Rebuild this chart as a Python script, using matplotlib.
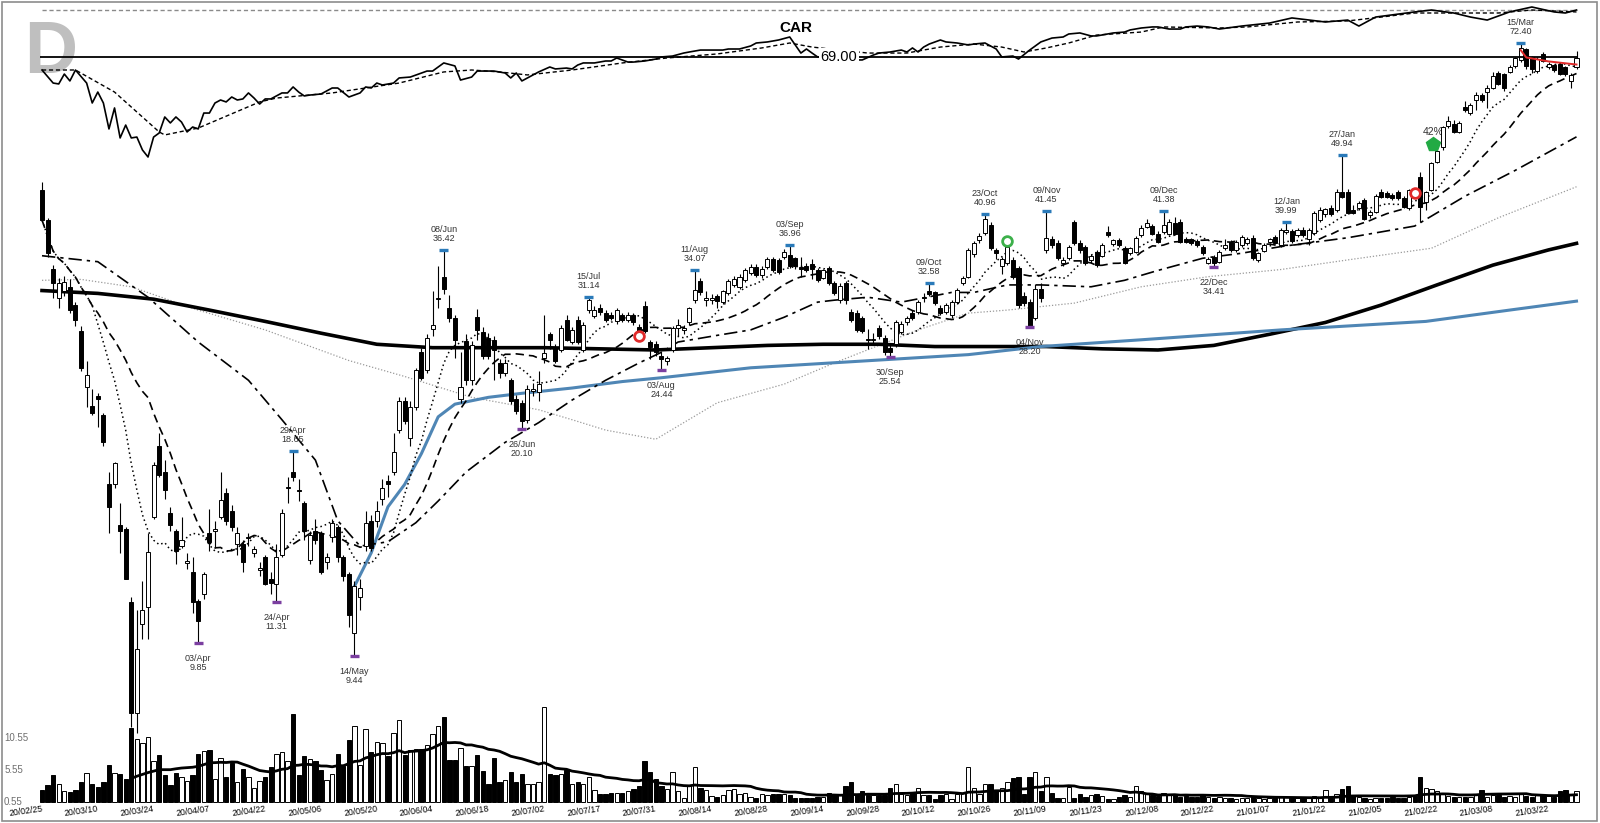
import numpy as np
import pandas as pd
import matplotlib
matplotlib.use('Agg')
import matplotlib.pyplot as plt
from matplotlib.patches import Rectangle

plt.rcParams['font.family'] = ['Liberation Sans', 'DejaVu Sans']

#   Data (daily bars, CAR)
# =====================================================
holidays = ['2020-04-10', '2020-05-25', '2020-07-03', '2020-09-07', '2020-11-26',
            '2020-12-25', '2021-01-01', '2021-01-18', '2021-02-15']

opens = [44.4, 40.2, 34.2, 31.0, 31.8, 32.2, 30.3, 27.8, 23.1, 21.7,
         22.4, 21.0, 16.7, 16.7, 14.6, 14.4, 11.3, 7.8, 10.5, 11.1,
         15.0, 19.0, 17.4, 15.2, 14.3, 13.6, 12.85, 12.5, 11.35, 11.6,
         14.2, 14.3, 15.0, 16.2, 15.3, 13.7, 13.7, 13.95, 13.3, 12.55,
         13.1, 12.2, 12.0, 13.2, 16.5, 17.4, 16.4, 15.7, 13.0, 14.3,
         14.2, 12.9, 14.0, 14.5, 13.1, 12.4, 10.2, 11.5, 13.6, 14.8,
         14.8, 15.9, 16.9, 17.4, 20.0, 22.0, 19.5, 21.6, 25.9, 24.4,
         28.0, 30.9, 33.3, 30.0, 29.0, 22.2, 26.9, 23.6, 29.1, 27.7,
         27.2, 27.0, 25.0, 24.2, 23.6, 22.2, 21.9, 20.7, 22.8, 22.7,
         25.4, 27.5, 26.4, 26.1, 28.8, 26.8, 28.8, 26.1, 29.8, 29.2,
         30.0, 29.5, 29.3, 28.7, 29.3, 28.8, 29.3, 28.2, 30.2, 26.8,
         26.6, 25.6, 25.2, 26.1, 28.1, 27.9, 28.6, 30.8, 32.8, 30.8,
         30.8, 31.2, 30.6, 31.5, 32.4, 32.2, 32.9, 33.7, 34.4, 33.5,
         34.4, 35.3, 35.2, 35.6, 35.8, 35.4, 34.3, 34.5, 34.7, 34.1,
         33.2, 34.3, 32.6, 30.8, 32.6, 29.6, 29.5, 29.0, 27.0, 27.0,
         28.1, 27.2, 26.3, 26.6, 27.7, 28.6, 29.5, 29.6, 31.0, 31.7,
         31.6, 30.0, 29.6, 29.3, 30.6, 32.6, 33.3, 35.9, 37.6, 38.5,
         39.6, 36.4, 34.5, 34.9, 35.2, 34.3, 31.2, 30.6, 29.0, 32.0,
         36.4, 37.8, 37.3, 34.9, 35.4, 39.9, 37.3, 36.8, 35.2, 36.1,
         35.7, 38.6, 37.1, 37.6, 36.6, 36.0, 36.2, 38.3, 39.3, 39.4,
         38.4, 38.6, 38.4, 39.8, 40.0, 37.8, 37.7, 37.5, 36.8, 34.9,
         35.6, 35.0, 36.6, 37.4, 36.4, 37.0, 37.2, 37.9, 35.2, 36.3,
         37.4, 38.0, 37.0, 38.6, 38.7, 38.2, 38.9, 37.8, 38.5, 40.2,
         41.0, 41.8, 41.5, 44.1, 44.1, 41.5, 41.9, 42.9, 40.9, 41.3,
         44.1, 44.0, 43.7, 44.1, 43.3, 41.8, 44.0, 46.4, 42.7, 44.4,
         48.8, 51.3, 55.0, 55.4, 53.9, 58.5, 57.3, 59.9, 61.0, 61.6,
         62.4, 65.6, 65.3, 65.8, 67.0, 68.4, 71.0, 69.0, 66.0, 69.9,
         66.8, 67.2, 67.6, 66.9, 63.8, 66.8]
highs = [45.6, 40.5, 34.6, 33.2, 33.4, 33.0, 30.6, 28.3, 25.2, 22.9,
         22.6, 21.2, 17.4, 18.0, 15.7, 14.5, 11.5, 11.0, 12.1, 14.2,
         18.0, 19.8, 18.1, 15.5, 14.4, 15.0, 13.3, 13.1, 11.4, 12.5,
         15.4, 14.8, 17.4, 16.5, 15.6, 14.5, 13.9, 14.2, 13.6, 12.9,
         13.2, 12.5, 13.7, 15.4, 17.1, 18.65, 17.0, 15.8, 14.3, 14.9,
         14.3, 13.3, 14.9, 14.6, 13.2, 12.5, 12.1, 12.2, 15.3, 15.1,
         15.8, 17.0, 17.2, 19.8, 22.3, 22.3, 22.0, 24.6, 26.3, 27.5,
         31.7, 34.5, 36.42, 31.3, 29.3, 25.9, 27.5, 26.9, 29.9, 28.2,
         27.6, 27.3, 25.3, 25.3, 23.8, 22.5, 22.1, 23.2, 23.4, 24.3,
         29.3, 27.7, 26.6, 28.4, 29.3, 28.2, 29.2, 28.6, 31.14, 30.2,
         30.4, 29.8, 29.6, 30.0, 29.5, 29.6, 29.5, 28.5, 30.7, 27.0,
         26.9, 26.0, 25.6, 28.3, 28.9, 28.4, 30.1, 34.07, 33.1, 31.7,
         31.4, 31.4, 31.9, 33.0, 33.4, 33.6, 34.3, 34.7, 34.7, 34.5,
         35.6, 35.5, 35.4, 36.5, 36.96, 35.6, 35.5, 34.8, 35.3, 34.3,
         34.2, 34.5, 32.8, 32.6, 32.8, 29.9, 29.8, 29.2, 28.0, 27.6,
         28.4, 27.4, 26.5, 28.8, 28.7, 29.2, 29.8, 30.8, 31.5, 32.58,
         31.8, 30.3, 30.5, 30.8, 32.1, 33.4, 36.6, 37.5, 38.5, 40.96,
         39.9, 36.6, 35.6, 37.0, 35.6, 34.5, 31.6, 30.9, 32.5, 32.6,
         41.45, 38.1, 37.6, 35.5, 37.0, 40.2, 37.6, 37.0, 35.9, 36.4,
         37.3, 39.4, 37.8, 37.9, 36.9, 36.8, 38.1, 39.6, 40.3, 39.7,
         38.7, 41.38, 40.3, 40.6, 40.3, 38.0, 37.9, 37.8, 37.0, 35.5,
         35.8, 36.4, 37.8, 37.6, 37.6, 38.2, 38.0, 38.2, 36.2, 37.2,
         37.9, 38.3, 39.1, 39.99, 39.0, 39.1, 39.3, 39.1, 41.4, 42.0,
         41.9, 42.2, 44.6, 49.94, 44.6, 42.2, 42.8, 43.3, 41.6, 43.9,
         44.5, 44.3, 44.0, 44.4, 43.6, 44.6, 44.6, 47.1, 44.3, 48.8,
         50.7, 55.0, 56.8, 56.0, 55.8, 59.8, 59.3, 61.5, 61.3, 63.0,
         65.7, 65.9, 65.6, 67.2, 69.2, 72.40, 71.3, 69.3, 69.0, 70.2,
         68.0, 67.5, 67.9, 67.1, 65.5, 70.6]
lows = [40.0, 35.6, 31.0, 30.0, 31.2, 29.5, 28.3, 24.3, 21.6, 21.0,
        20.2, 19.0, 14.2, 16.5, 13.3, 12.2, 7.45, 7.3, 10.0, 10.0,
        14.9, 17.1, 15.9, 14.3, 12.8, 13.5, 12.6, 10.9, 9.85, 11.4,
        13.4, 13.5, 14.9, 14.6, 14.3, 13.2, 12.5, 13.6, 13.1, 12.3,
        11.95, 11.6, 11.31, 13.1, 15.7, 16.9, 15.8, 13.9, 12.8, 13.7,
        12.4, 12.6, 13.8, 12.9, 12.1, 10.4, 9.44, 11.0, 13.4, 13.4,
        14.5, 15.6, 16.0, 17.2, 19.8, 20.4, 19.0, 21.4, 23.6, 24.2,
        27.3, 30.0, 31.4, 28.6, 25.4, 21.9, 23.2, 23.2, 27.0, 25.3,
        25.3, 23.6, 23.8, 23.9, 21.8, 21.1, 20.10, 20.5, 22.4, 22.0,
        25.0, 26.2, 25.0, 25.9, 26.9, 26.6, 26.6, 25.9, 29.5, 29.0,
        29.3, 28.6, 28.8, 28.5, 28.6, 28.6, 28.4, 27.3, 27.6, 25.3,
        25.6, 24.44, 24.8, 25.9, 27.3, 27.5, 28.4, 30.5, 31.3, 30.2,
        30.4, 30.0, 30.4, 31.3, 32.2, 32.0, 32.7, 33.5, 33.3, 33.2,
        34.2, 33.8, 33.6, 35.3, 34.3, 34.2, 33.3, 33.8, 33.0, 32.7,
        33.0, 32.4, 31.3, 30.5, 30.4, 28.6, 27.7, 27.6, 26.2, 26.6,
        27.1, 25.7, 25.54, 26.4, 27.5, 28.4, 28.8, 29.4, 30.6, 31.2,
        30.3, 29.3, 29.4, 29.0, 30.4, 32.4, 33.1, 35.6, 37.2, 38.3,
        36.4, 35.3, 33.6, 34.6, 33.0, 30.0, 30.2, 28.20, 28.8, 30.6,
        36.0, 36.6, 35.2, 34.5, 35.2, 37.0, 36.0, 34.6, 34.9, 34.4,
        35.5, 38.0, 36.9, 36.8, 34.7, 35.8, 36.0, 38.0, 39.1, 38.2,
        37.2, 38.4, 38.2, 38.2, 37.2, 37.2, 37.0, 36.8, 35.8, 34.7,
        34.41, 34.8, 36.4, 36.2, 36.2, 36.8, 37.0, 35.2, 35.0, 36.1,
        37.2, 37.1, 36.8, 38.4, 37.3, 38.0, 38.0, 37.0, 38.3, 40.0,
        40.6, 40.7, 41.3, 43.2, 41.0, 41.0, 41.6, 40.2, 40.5, 41.1,
        43.2, 43.2, 43.0, 43.0, 41.8, 41.5, 43.3, 39.9, 41.6, 44.2,
        48.6, 50.8, 54.6, 53.6, 53.6, 57.5, 57.0, 58.0, 59.6, 58.4,
        62.2, 63.0, 61.7, 65.5, 66.7, 68.0, 66.5, 65.5, 65.6, 67.9,
        66.3, 65.8, 65.0, 64.9, 62.3, 66.4]
closes = [40.2, 36.0, 32.6, 32.6, 32.7, 29.8, 28.8, 24.6, 24.0, 21.2,
          22.2, 19.2, 15.5, 17.9, 14.3, 12.2, 7.8, 9.65, 11.0, 13.35,
          17.8, 17.2, 16.4, 14.6, 13.4, 13.9, 12.95, 11.3, 10.6, 12.4,
          13.8, 14.4, 15.85, 14.8, 14.5, 14.2, 12.9, 14.0, 13.45, 12.65,
          12.0, 12.05, 13.1, 15.2, 16.55, 17.1, 16.35, 14.3, 14.1, 13.9,
          12.5, 13.1, 14.7, 13.1, 12.3, 10.8, 11.9, 11.85, 14.7, 13.5,
          15.3, 16.5, 16.7, 18.6, 22.0, 20.6, 21.6, 24.4, 23.8, 27.2,
          28.4, 31.0, 32.0, 29.0, 27.0, 23.1, 23.6, 26.5, 27.9, 25.6,
          25.6, 26.1, 24.2, 25.0, 22.0, 21.3, 20.6, 22.9, 22.9, 23.3,
          25.8, 27.0, 25.2, 28.1, 27.0, 27.9, 26.8, 28.4, 30.8, 29.8,
          29.6, 28.8, 29.0, 29.8, 28.8, 29.3, 28.6, 27.8, 27.8, 26.4,
          25.9, 25.3, 25.4, 28.1, 28.4, 28.1, 30.0, 31.9, 31.6, 31.0,
          31.0, 30.7, 31.7, 32.8, 33.0, 33.3, 34.0, 34.4, 33.5, 34.2,
          35.3, 34.0, 33.8, 36.1, 34.5, 34.5, 34.2, 34.0, 34.2, 32.9,
          34.0, 32.6, 31.5, 32.3, 30.8, 28.8, 27.9, 27.8, 26.95, 27.1,
          27.3, 25.9, 25.9, 28.6, 28.5, 29.0, 29.0, 30.6, 31.1, 31.4,
          30.5, 29.5, 30.3, 30.6, 31.9, 33.1, 36.4, 37.3, 38.1, 40.4,
          36.6, 36.0, 35.3, 36.8, 33.3, 30.3, 30.5, 28.3, 32.0, 31.0,
          37.9, 37.0, 35.4, 35.2, 36.8, 37.3, 36.4, 34.9, 35.7, 34.6,
          37.0, 38.2, 37.6, 37.0, 34.9, 36.6, 37.9, 39.2, 39.8, 38.4,
          37.4, 39.6, 40.0, 38.4, 37.4, 37.4, 37.3, 37.0, 36.0, 35.3,
          34.9, 36.2, 37.0, 36.4, 37.4, 38.0, 37.8, 35.4, 36.0, 37.0,
          37.7, 37.3, 38.9, 38.9, 37.5, 38.9, 38.2, 38.9, 41.1, 41.5,
          41.7, 41.0, 44.1, 43.4, 41.2, 41.2, 42.5, 40.4, 41.3, 43.6,
          43.4, 43.4, 43.2, 43.2, 42.0, 44.4, 43.5, 42.0, 44.1, 48.6,
          50.5, 54.7, 55.9, 53.9, 55.5, 57.9, 59.0, 60.9, 59.9, 62.4,
          64.8, 63.2, 62.4, 66.8, 68.9, 71.3, 67.0, 66.5, 68.6, 68.3,
          67.6, 66.1, 65.3, 65.3, 65.2, 68.9]
volumes = [2.5, 3.2, 4.8, 3.3, 2.3, 2.1, 2.5, 3.7, 5.1, 3.3,
           2.9, 3.7, 6.3, 5.1, 4.9, 4.2, 12.1, 10.4, 9.8, 10.7,
           7.0, 7.9, 4.8, 3.2, 5.1, 4.4, 3.9, 4.8, 8.1, 8.5,
           8.6, 4.2, 7.4, 4.4, 6.6, 3.7, 5.7, 4.5, 2.7, 3.9,
           4.4, 6.0, 8.1, 8.3, 7.0, 14.3, 4.8, 7.8, 7.2, 7.0,
           5.6, 4.0, 5.0, 8.1, 6.2, 10.3, 12.5, 6.3, 12.0, 8.3,
           9.9, 9.7, 7.7, 11.4, 13.4, 7.9, 8.7, 8.8, 8.8, 9.5,
           11.2, 12.5, 13.9, 7.1, 7.1, 9.0, 6.2, 6.2, 7.9, 5.4,
           3.4, 7.4, 3.7, 4.0, 5.3, 3.7, 4.9, 3.4, 3.4, 3.7,
           15.4, 4.9, 4.8, 4.9, 5.6, 3.3, 3.7, 3.3, 4.5, 2.5,
           1.8, 1.8, 2.0, 2.0, 2.0, 2.2, 2.6, 3.0, 7.0, 5.3,
           4.1, 3.1, 2.6, 5.3, 2.2, 1.2, 3.0, 6.0, 2.8, 2.4,
           1.5, 1.4, 1.7, 2.4, 2.6, 1.8, 2.0, 1.4, 1.1, 1.8,
           1.7, 1.8, 1.8, 1.8, 1.7, 1.2, 1.2, 1.2, 1.2, 1.3,
           1.3, 1.9, 1.6, 1.8, 3.0, 3.6, 1.6, 2.2, 1.7, 1.7,
           1.7, 1.7, 2.7, 3.3, 1.8, 1.6, 1.9, 2.8, 1.7, 1.7,
           1.0, 1.6, 1.8, 1.0, 1.8, 1.9, 6.0, 2.8, 1.8, 3.3,
           3.3, 2.3, 2.8, 3.6, 4.3, 4.5, 1.8, 4.5, 5.2, 2.3,
           4.4, 1.9, 1.2, 1.1, 2.9, 1.1, 1.8, 1.3, 1.6, 1.8,
           1.5, 1.0, 1.0, 1.4, 1.6, 1.4, 3.1, 2.3, 1.8, 1.6,
           1.5, 2.0, 1.6, 1.6, 1.4, 1.5, 1.3, 1.4, 1.6, 1.3,
           1.2, 1.3, 1.2, 1.2, 1.0, 1.2, 1.1, 1.3, 1.1, 1.0,
           1.2, 1.3, 1.5, 1.3, 1.2, 1.2, 1.1, 1.2, 1.5, 1.3,
           2.4, 1.2, 1.8, 2.6, 3.1, 1.6, 1.3, 1.2, 1.0, 1.2,
           1.1, 1.2, 1.3, 1.2, 1.2, 1.4, 1.5, 4.4, 2.7, 2.6,
           2.2, 1.8, 1.5, 1.4, 1.3, 1.4, 1.4, 1.6, 2.4, 1.4,
           1.6, 1.6, 1.3, 1.5, 1.4, 1.9, 1.5, 1.3, 1.7, 1.6,
           1.5, 1.4, 2.2, 2.5, 1.6, 2.3]

# long moving averages (read at sparse bars)
ma50_idx = [0, 10, 19, 28, 37, 43, 49, 53, 57, 62, 67, 71, 76, 83, 89, 95, 101, 107, 111,
            114, 121, 127, 133, 139, 142, 148, 154, 163, 167, 173, 179, 188, 194, 200, 208,
            215, 222, 234, 246, 255, 264, 275]
ma50_val = [35.7, 35.0, 31.1, 26.8, 23.6, 20.7, 18.1, 14.8, 13.6, 13.8, 14.7, 15.8, 17.4,
            19.2, 20.5, 22.1, 23.6, 25.0, 25.9, 26.8, 27.4, 27.9, 29.1, 30.6, 30.8, 31.1,
            30.6, 31.6, 31.6, 32.4, 32.4, 32.2, 32.9, 34.0, 35.4, 36.0, 36.8, 37.9, 39.4,
            43.5, 47.4, 53.0]
ma100_idx = [0, 7, 16, 28, 40, 55, 65, 77, 89, 95, 101, 110, 121, 133, 142, 151, 157, 161,
             166, 173, 185, 197, 209, 222, 235, 249, 261, 275]
ma100_val = [32.9, 33.0, 32.2, 29.8, 27.9, 25.2, 23.9, 22.3, 21.4, 20.7, 20.0, 19.4, 21.9,
             23.3, 25.0, 26.7, 27.9, 28.6, 29.5, 29.8, 30.5, 32.2, 33.3, 34.1, 35.3, 36.6,
             40.5, 44.9]
ma200_idx = [0, 10, 20, 30, 40, 50, 60, 70, 80, 90, 100, 110, 120, 130, 140, 150, 160, 170,
             180, 190, 200, 210, 220, 230, 240, 250, 260, 270, 275]
ma200_val = [31.8, 31.5, 30.9, 29.8, 28.7, 27.6, 26.6, 26.3, 26.3, 26.3, 26.2, 26.1, 26.3,
             26.5, 26.6, 26.6, 26.4, 26.4, 26.4, 26.2, 26.1, 26.5, 27.5, 28.6, 30.3, 32.4,
             34.6, 36.4, 37.2]
# line anchored at the 14/May low
avwap_idx = [56, 59, 62, 65, 68, 71, 74, 80, 86, 95, 104, 111, 127, 145, 166, 179, 197, 222,
             248, 263, 275]
avwap_val = [11.9, 13.3, 15.5, 16.7, 18.5, 20.9, 21.8, 22.3, 22.6, 23.0, 23.5, 23.8, 24.6,
             25.1, 25.7, 26.4, 27.0, 27.9, 28.7, 29.8, 30.7]

# relative strength line (top pane) and its average
rs_idx = [0, 2, 3, 4, 5, 6, 8, 9, 10, 11, 12, 13, 14, 15, 16, 17, 18, 19, 20, 21, 22, 23, 24,
          25, 26, 27, 28, 29, 30, 31, 32, 33, 34, 35, 36, 37, 38, 39, 40, 41, 43, 44, 45, 46,
          47, 48, 50, 52, 53, 55, 57, 58, 59, 60, 61, 63, 64, 66, 68, 69, 70, 72, 74, 75, 77,
          78, 80, 81, 83, 84, 85, 86, 88, 89, 91, 92, 94, 95, 96, 97, 99, 101, 102, 103, 105,
          106, 108, 110, 111, 113, 115, 116, 118, 120, 122, 123, 125, 127, 128, 130, 132,
          134, 135, 136, 137, 138, 139, 142, 145, 147, 149, 150, 152, 154, 155, 156, 157,
          158, 159, 161, 162, 164, 166, 167, 169, 171, 172, 174, 175, 177, 179, 181, 183,
          184, 186, 188, 189, 192, 194, 195, 197, 199, 200, 202, 204, 205, 207, 209, 211,
          215, 220, 224, 230, 234, 236, 239, 246, 249, 253, 256, 259, 263, 267, 271, 273, 275]
rs_val = [60.0, 51.3, 50.7, 57.3, 52.7, 60.0, 51.3, 38.0, 45.3, 38.0, 20.7, 34.7, 14.7, 23.3,
          14.7, 15.3, 6.7, 2.0, 15.3, 18.0, 28.7, 24.7, 28.7, 25.3, 18.7, 22.0, 20.7, 31.3,
          31.3, 38.0, 40.0, 38.7, 42.0, 40.0, 40.7, 44.7, 41.3, 37.3, 40.7, 40.7, 44.7, 44.7,
          48.7, 45.3, 42.7, 43.3, 44.0, 48.0, 48.0, 42.0, 44.7, 48.7, 48.0, 51.3, 50.0, 51.3,
          54.7, 55.3, 58.0, 59.3, 59.3, 64.7, 62.7, 53.3, 55.3, 59.3, 59.3, 59.3, 58.0, 54.7,
          58.0, 52.7, 56.7, 58.7, 62.0, 60.7, 61.3, 60.7, 63.3, 64.7, 64.7, 66.0, 66.0, 68.0,
          65.3, 65.3, 66.0, 67.3, 68.7, 69.3, 71.3, 72.0, 73.3, 73.3, 73.3, 74.0, 74.0, 76.0,
          78.0, 78.7, 80.0, 82.0, 76.7, 71.3, 74.0, 71.3, 68.7, 68.0, 66.7, 66.7, 70.0, 71.3,
          72.0, 73.3, 72.0, 74.7, 72.0, 75.3, 77.3, 80.0, 78.7, 78.0, 76.7, 77.3, 78.0, 74.0,
          68.7, 69.3, 67.3, 73.3, 78.7, 81.3, 82.0, 84.0, 84.7, 82.7, 82.7, 84.7, 85.3, 86.7,
          88.0, 88.7, 88.7, 87.3, 87.3, 88.7, 89.3, 88.7, 87.3, 89.3, 91.3, 94.7, 92.0, 93.3,
          89.3, 95.3, 98.7, 100.0, 98.0, 95.3, 93.3, 98.7, 102.0, 98.7, 98.0, 100.0]
rsma_idx = [0, 6, 13, 21, 22, 28, 39, 42, 52, 64, 72, 77, 82, 87, 95, 104, 112, 121, 129, 134,
            138, 143, 148, 155, 161, 167, 172, 176, 180, 184, 189, 197, 201, 211, 216, 225,
            234, 240, 246, 255, 261, 267, 275]
rsma_val = [60.0, 60.0, 45.3, 18.7, 16.7, 21.3, 38.7, 41.3, 44.7, 51.3, 58.7, 60.0, 58.7,
            56.7, 60.0, 64.7, 68.0, 70.7, 74.7, 78.0, 75.3, 73.3, 71.3, 71.3, 75.3, 77.3,
            75.3, 72.0, 74.7, 78.0, 83.3, 85.3, 88.7, 88.0, 88.7, 92.0, 92.7, 95.3, 98.0,
            98.0, 98.0, 100.0, 98.7]

pivot_highs = [45, 72, 98, 117, 134, 159, 169, 180, 201, 223, 233, 265]
pivot_lows = [28, 42, 56, 86, 111, 152, 177, 210]
red_sig_idx = [107, 246]
red_sig_val = [27.3, 44.0]
green_sig_idx = [173]
green_sig_val = [37.5]
entry_idx, entry_val, entry_txt = 249.3, 51.8, '42%'
stop_idx = [265, 266, 270, 275]
stop_val = [70.7, 69.0, 68.1, 67.4]
level = 69.0
vol_ticks = [0.55, 5.55, 10.55]

# =====================================================
dates = pd.bdate_range('2020-02-25', '2021-03-29', freq='C', holidays=holidays)
n = len(closes)
dates = dates[:n]
x = np.arange(n)
o = np.array(opens)
h = np.array(highs)
l = np.array(lows)
c = np.array(closes)
v = np.array(volumes)
up = c >= o

sma10 = pd.Series(c).rolling(10, min_periods=1).mean()
sma20 = pd.Series(c).rolling(20, min_periods=1).mean()
vma20 = pd.Series(v).rolling(20, min_periods=1).mean()

W, H = 1600, 823
fig = plt.figure(figsize=(W / 100, H / 100), dpi=100)
axv = fig.add_axes([0, 0, 1, 1])
axr = fig.add_axes([0, 0, 1, 1])
ax = fig.add_axes([0, 0, 1, 1])

# pixel layout of the original: x = 42 + 5.58*i, y = 1331.5 - 300.9*ln(p)
xlim = ((0 - 42) / 5.58, (W - 42) / 5.58)
for a in (axv, axr, ax):
    a.set_xlim(*xlim)
    a.axis('off')
    a.patch.set_alpha(0)
ax.set_yscale('log')
ax.set_ylim(np.exp((1331.5 - H) / 300.9), np.exp(1331.5 / 300.9))
axv.set_ylim(0.55 - (H - 802) / 6.4, 0.55 + 802 / 6.4)
axr.set_ylim(100 - (H - 10) / 1.5, 100 + 10 / 1.5)

# big letter in the corner
axv.text(24 / W, 1 - 73 / H, 'D', transform=fig.transFigure, fontsize=53,
         fontweight='bold', color='#bfbfbf', ha='left', va='baseline')

# volume pane
vcol = np.where(up, 'white', 'black')
axv.bar(x, v - 0.55, bottom=0.55, width=0.78, color=vcol, edgecolor='black', linewidth=0.7)
axv.plot(x[16:], vma20[16:], color='black', lw=2.0)
for t in vol_ticks:
    axv.text(-6.8, t, f'{t:.2f}', ha='left', va='center', fontsize=7, color='#6f6f6f')
for k in range(0, n, 10):
    axv.text(k, 0.25, dates[k].strftime('%y/%m/%d'), ha='right', va='top', rotation=8,
             rotation_mode='anchor', fontsize=6.3)

# relative strength pane
axr.hlines(100, 0, n - 1, colors='#8a8a8a', linestyles=(0, (3, 2)), lw=1.0)
axr.plot(rs_idx, rs_val, color='black', lw=1.2)
axr.plot(rsma_idx, rsma_val, color='black', lw=1.0, ls=(0, (3, 2)))
axr.text(796 / W, 1 - 28 / H, 'CAR', transform=fig.transFigure, ha='center', va='center',
         fontsize=11, fontweight='bold')

# moving averages
ax.plot(ma100_idx, ma100_val, color='#9a9a9a', lw=0.9, ls=(0, (1, 1.5)))
ax.plot(ma200_idx, ma200_val, color='black', lw=2.6)
ax.plot(avwap_idx, avwap_val, color='#4f86b5', lw=2.2)
ax.plot(ma50_idx, ma50_val, color='black', lw=1.2, ls=(0, (8, 3, 2, 3)))
ax.plot(x, sma20, color='black', lw=1.2, ls=(0, (5, 3)))
ax.plot(x, sma10, color='black', lw=1.1, ls=(0, (1, 2)))

# candles
ax.vlines(x, l, h, colors='black', lw=0.8, zorder=3)
body_lo = np.minimum(o, c)
body_h = np.maximum(np.abs(c - o), 0.004 * body_lo)
ax.bar(x, body_h, bottom=body_lo, width=0.72, color=np.where(up, 'white', 'black'),
       edgecolor='black', linewidth=0.7, zorder=4)

ax.hlines(level, -0.4, n - 1, colors='black', lw=1.3, zorder=5)
ax.text((839 - 42) / 5.58, level, f'{level:.2f}', ha='center', va='center', fontsize=10.5,
        bbox=dict(fc='white', ec='none', pad=1.5), zorder=6)

# swing highs / lows
for i in pivot_highs:
    ax.hlines(h[i], i - 0.8, i + 0.8, colors='#2a7ab9', lw=2.4, zorder=5)
    ax.annotate(f'{dates[i]:%d/%b}\n{h[i]:.2f}', (i, h[i]), xytext=(0, 5),
                textcoords='offset points', ha='center', va='bottom', fontsize=6.5,
                color='#333333', linespacing=1.0)
for i in pivot_lows:
    ax.hlines(l[i], i - 0.8, i + 0.8, colors='#7b3fa0', lw=2.4, zorder=5)
    ax.annotate(f'{dates[i]:%d/%b}\n{l[i]:.2f}', (i, l[i]), xytext=(0, -8),
                textcoords='offset points', ha='center', va='top', fontsize=6.5,
                color='#333333', linespacing=1.0)

# signals
ax.plot(red_sig_idx, red_sig_val, 'o', mfc='white', mec='#e02a2a', mew=2.0, ms=7, zorder=6)
ax.plot(green_sig_idx, green_sig_val, 'o', mfc='white', mec='#3cb04a', mew=2.0, ms=7, zorder=6)
ax.plot([entry_idx], [entry_val], marker='p', color='#22aa44', ms=10, zorder=6)
ax.text(entry_idx, np.exp((1331.5 - 132) / 300.9), entry_txt, ha='center', va='center',
        fontsize=7.5, color='#333333')
ax.plot(stop_idx, stop_val, color='#e02a2a', lw=1.4, zorder=6)

fig.add_artist(Rectangle((0.001, 0.002), 0.997, 0.996, transform=fig.transFigure,
                         fill=False, ec='#8c8c8c', lw=1.2))

fig.savefig('out.png', dpi=100)
